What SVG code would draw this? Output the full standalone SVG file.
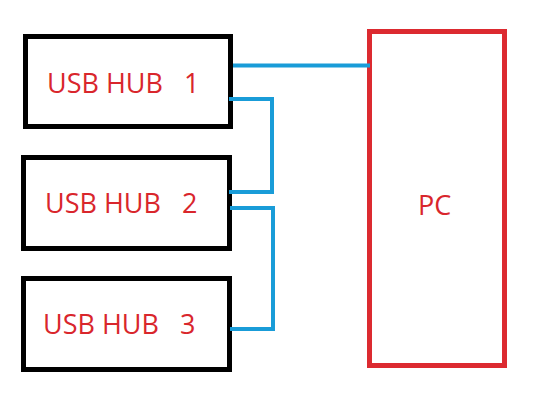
<svg xmlns="http://www.w3.org/2000/svg" width="536" height="416" viewBox="0 0 536 416">
<style>
.hub{fill:#fff;stroke:#000;stroke-width:5}
.pc{fill:#fff;stroke:#dc2a30;stroke-width:5}
.lbl{font-family:"Open Sans","Noto Sans",sans-serif;font-size:27px;fill:#d9262c;white-space:pre}
.wire{fill:none;stroke:#199cd8;stroke-width:4;stroke-linejoin:miter}
</style>
<rect width="536" height="416" fill="#fff"/>
<g id="hub1"><rect class="hub" x="25.5" y="36.5" width="205" height="90"/><text class="lbl" x="47" y="93">USB HUB   1</text></g>
<g id="hub2"><rect class="hub" x="23.5" y="157.5" width="206" height="91"/><text class="lbl" x="45" y="213">USB HUB   2</text></g>
<g id="hub3"><rect class="hub" x="23.5" y="278.5" width="206" height="91"/><text class="lbl" x="43" y="334">USB HUB   3</text></g>
<g id="pc"><rect class="pc" x="369.5" y="31.5" width="135" height="334"/><text class="lbl" x="418" y="215">PC</text></g>
<g id="connectors">
<path class="wire" d="M233 65.5H370"/>
<path class="wire" d="M229 99H272V192H229"/>
<path class="wire" d="M230 208H273V329H230"/>
</g>
</svg>
